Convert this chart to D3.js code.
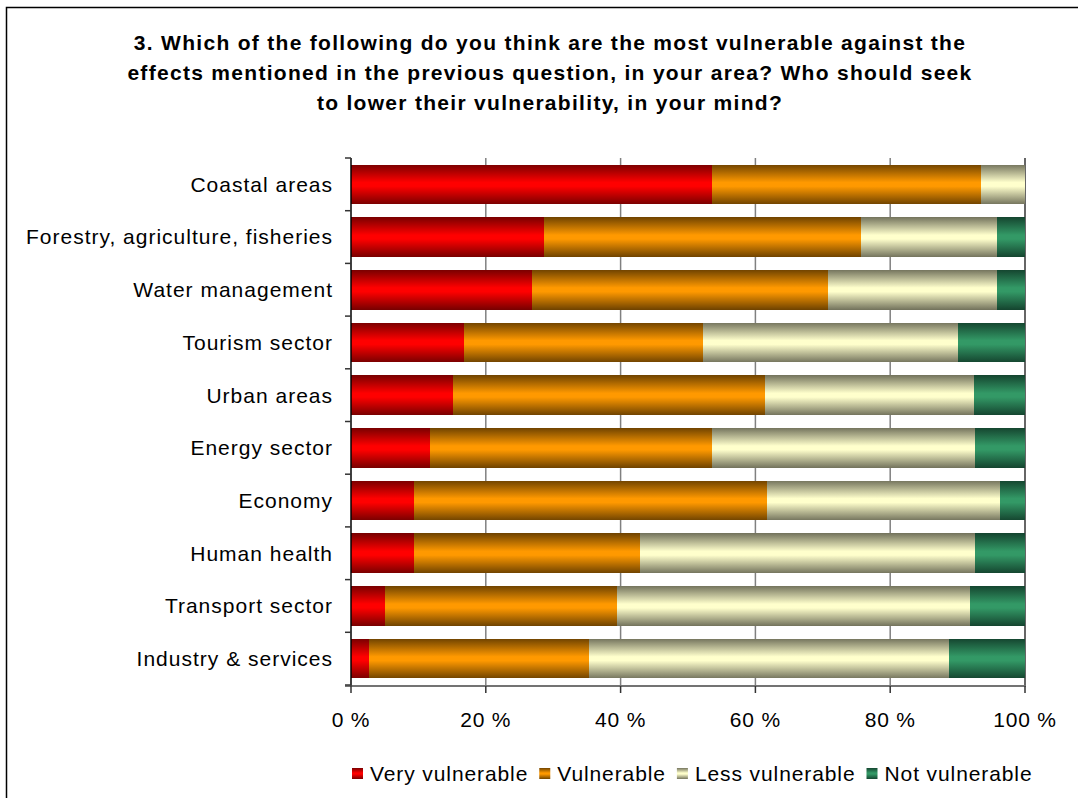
<!DOCTYPE html>
<html lang="en">
<head>
  <meta charset="utf-8">
  <title>Vulnerability chart</title>
  <script src="https://d3js.org/d3.v7.min.js"></script>
  <style>
    body { margin: 0; background: #fff; }
    svg text { font-family: "Liberation Sans", Arial, sans-serif; fill: #000; }
    .title { font-weight: bold; font-size: 21px; letter-spacing: 1.3px; }
    .cat { font-size: 21px; letter-spacing: 1px; }
    .tick-label { font-size: 21px; letter-spacing: 0.8px; }
    .legend-text { font-size: 21px; letter-spacing: 0.9px; }
  </style>
</head>
<body>
<script>
  // categories, top to bottom
  const categories = ["Coastal areas", "Forestry, agriculture, fisheries", "Water management",
    "Tourism sector", "Urban areas", "Energy sector", "Economy", "Human health",
    "Transport sector", "Industry & services"];

  const seriesNames = ["Very vulnerable", "Vulnerable", "Less vulnerable", "Not vulnerable"];

  // shares in %
  const veryVulnerable = [53.6, 28.6, 26.9, 16.8, 15.1, 11.7, 9.3, 9.3, 5.0, 2.7];
  const vulnerable     = [39.9, 47.1, 43.9, 35.4, 46.3, 41.9, 52.4, 33.6, 34.5, 32.6];
  const lessVulnerable = [6.5, 20.1, 25.0, 37.9, 31.0, 39.0, 34.6, 49.7, 52.3, 53.4];
  const notVulnerable  = [0.0, 4.2, 4.2, 9.9, 7.6, 7.4, 3.7, 7.4, 8.2, 11.3];

  const xTicks = [0, 20, 40, 60, 80, 100];

  const titleLines = [
    "3. Which of the following do you think are the most vulnerable against the",
    "effects mentioned in the previous question, in your area? Who should seek",
    "to lower their vulnerability, in your mind?"
  ];

  // dark edge / bright middle, like the excel shading
  const shades = [
    ["#7a0000", "#ff0000"],
    ["#714400", "#ff9900"],
    ["#75755e", "#ffffcc"],
    ["#154630", "#339966"]
  ];

  const width = 1078, height = 798;
  const svg = d3.select("body").append("svg")
    .attr("width", width)
    .attr("height", height);

  const defs = svg.append("defs");
  shades.forEach((s, i) => {
    const g = defs.append("linearGradient")
      .attr("id", "grad" + i)
      .attr("x1", 0).attr("y1", 0).attr("x2", 0).attr("y2", 1);
    g.append("stop").attr("offset", "0%").attr("stop-color", s[0]);
    g.append("stop").attr("offset", "45%").attr("stop-color", s[1]);
    g.append("stop").attr("offset", "55%").attr("stop-color", s[1]);
    g.append("stop").attr("offset", "100%").attr("stop-color", s[0]);
  });

  // outer frame
  svg.append("rect")
    .attr("x", 6.5).attr("y", 7.5)
    .attr("width", 1100).attr("height", 900)
    .attr("fill", "none")
    .attr("stroke", "#000")
    .attr("stroke-width", 1.5);

  // title
  svg.append("g").selectAll("text")
    .data(titleLines)
    .enter().append("text")
    .attr("class", "title")
    .attr("x", 550)
    .attr("y", (d, i) => 50 + i * 30)
    .attr("text-anchor", "middle")
    .text(d => d);

  const x = d3.scaleLinear().domain([0, 100]).range([351, 1025]);
  const y = d3.scaleBand().domain(categories).range([158, 685])
    .paddingInner(0.25).paddingOuter(0.125);

  // gridlines
  svg.append("g").selectAll("line")
    .data(xTicks.slice(1))
    .enter().append("line")
    .attr("x1", d => x(d)).attr("x2", d => x(d))
    .attr("y1", 158).attr("y2", 685)
    .attr("stroke", d => d === 100 ? "#333" : "#808080")
    .attr("stroke-width", 1.5);

  // stack the series
  const rows = categories.map((c, i) => ({
    cat: c,
    values: [veryVulnerable[i], vulnerable[i], lessVulnerable[i], notVulnerable[i]]
  }));

  const segs = [];
  rows.forEach(r => {
    let acc = 0;
    r.values.forEach((v, k) => {
      segs.push({ cat: r.cat, k: k, x0: acc, x1: acc + v });
      acc += v;
    });
  });

  svg.append("g").selectAll("rect")
    .data(segs.filter(d => d.x1 > d.x0))
    .enter().append("rect")
    .attr("x", d => x(d.x0))
    .attr("width", d => x(d.x1) - x(d.x0))
    .attr("y", d => y(d.cat))
    .attr("height", y.bandwidth())
    .attr("fill", d => "url(#grad" + d.k + ")")
    .attr("shape-rendering", "crispEdges");

  // left axis line and boundary ticks
  const step = y.step();
  const yAxis = svg.append("g");
  yAxis.append("line")
    .attr("x1", 351).attr("x2", 351)
    .attr("y1", 158).attr("y2", 686)
    .attr("stroke", "#000").attr("stroke-width", 1.5);
  yAxis.selectAll(".ytick")
    .data(d3.range(categories.length + 1))
    .enter().append("line")
    .attr("x1", 345).attr("x2", 351)
    .attr("y1", i => 158 + i * step).attr("y2", i => 158 + i * step)
    .attr("stroke", "#333").attr("stroke-width", 1.5);

  yAxis.selectAll(".cat")
    .data(categories)
    .enter().append("text")
    .attr("class", "cat")
    .attr("x", 333)
    .attr("y", d => y(d) + y.bandwidth() / 2)
    .attr("dy", "0.35em")
    .attr("text-anchor", "end")
    .text(d => d);

  // bottom axis
  const xAxis = svg.append("g");
  xAxis.append("line")
    .attr("x1", 345).attr("x2", 1026)
    .attr("y1", 686).attr("y2", 686)
    .attr("stroke", "#444").attr("stroke-width", 1.5);
  xAxis.selectAll(".xtick")
    .data(xTicks)
    .enter().append("line")
    .attr("x1", d => x(d)).attr("x2", d => x(d))
    .attr("y1", 686).attr("y2", 693)
    .attr("stroke", "#333").attr("stroke-width", 1.5);
  xAxis.selectAll(".tick-label")
    .data(xTicks)
    .enter().append("text")
    .attr("class", "tick-label")
    .attr("x", d => x(d))
    .attr("y", 727)
    .attr("text-anchor", "middle")
    .text(d => d + " %");

  // legend
  const legend = svg.append("g");
  let lx = 352;
  seriesNames.forEach((name, i) => {
    legend.append("rect")
      .attr("x", lx).attr("y", 768)
      .attr("width", 11).attr("height", 11)
      .attr("fill", "url(#grad" + i + ")");
    const t = legend.append("text")
      .attr("class", "legend-text")
      .attr("x", lx + 18)
      .attr("y", 781)
      .text(name);
    lx += 18 + t.node().getComputedTextLength() + 11;
  });
</script>
</body>
</html>
